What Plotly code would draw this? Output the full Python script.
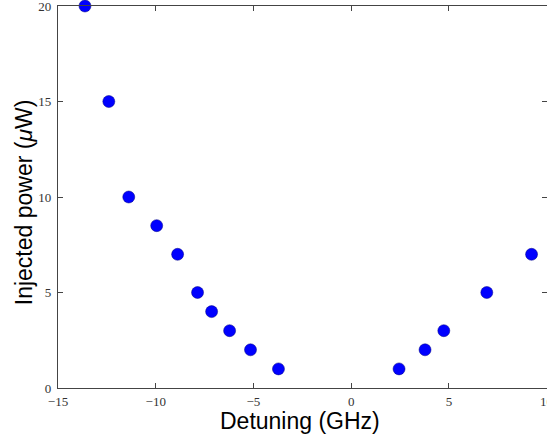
import plotly.graph_objects as go

detuning_ghz = [-13.62, -12.40, -11.38, -9.95, -8.88, -7.86, -7.14, -6.22, -5.15, -3.72,
                2.45, 3.78, 4.74, 6.94, 9.23]
injected_power_uw = [20, 15, 10, 8.5, 7, 5, 4, 3, 2, 1,
                     1, 2, 3, 5, 7]
x_ticks = [-15, -10, -5, 0, 5, 10]
y_ticks = [0, 5, 10, 15, 20]

fig = go.Figure(go.Scatter(
    x=detuning_ghz, y=injected_power_uw, mode="markers",
    marker=dict(color="#0000ff", size=12, line=dict(width=0.5, color="#000080")),
    cliponaxis=False,
))

axis_common = dict(
    showgrid=False, zeroline=False, showline=True, linecolor="#444", linewidth=1.3,
    mirror="ticks", ticks="inside", ticklen=5, tickcolor="#444", automargin=False,
    ticklabeloverflow="allow",
    tickfont=dict(family="Liberation Serif, serif", size=13, color="#333"),
)

title_font = dict(family="Liberation Sans, Arial, sans-serif", size=23, color="black")

fig.update_layout(
    width=547, height=436,
    margin=dict(l=58, r=0, t=6, b=48),
    plot_bgcolor="white", paper_bgcolor="white",
    showlegend=False,
    xaxis=dict(range=[-15, 10.02], tickvals=x_ticks, ticklabelstandoff=1, **axis_common),
    yaxis=dict(range=[0, 20], tickvals=y_ticks, ticklabelstandoff=3, **axis_common),
    annotations=[
        dict(text="Injected power (<i>μ</i>W)", textangle=-90, showarrow=False,
             xref="paper", yref="paper", x=-0.069, y=0.487,
             xanchor="center", yanchor="middle", font=title_font),
        dict(text="Detuning (GHz)", showarrow=False,
             xref="paper", yref="paper", x=0.495, y=-0.086,
             xanchor="center", yanchor="middle", font=title_font),
    ],
)

fig.write_html("out.html", config={"displayModeBar": False},
               post_script="document.body.style.margin='0';document.body.style.overflow='hidden';")
